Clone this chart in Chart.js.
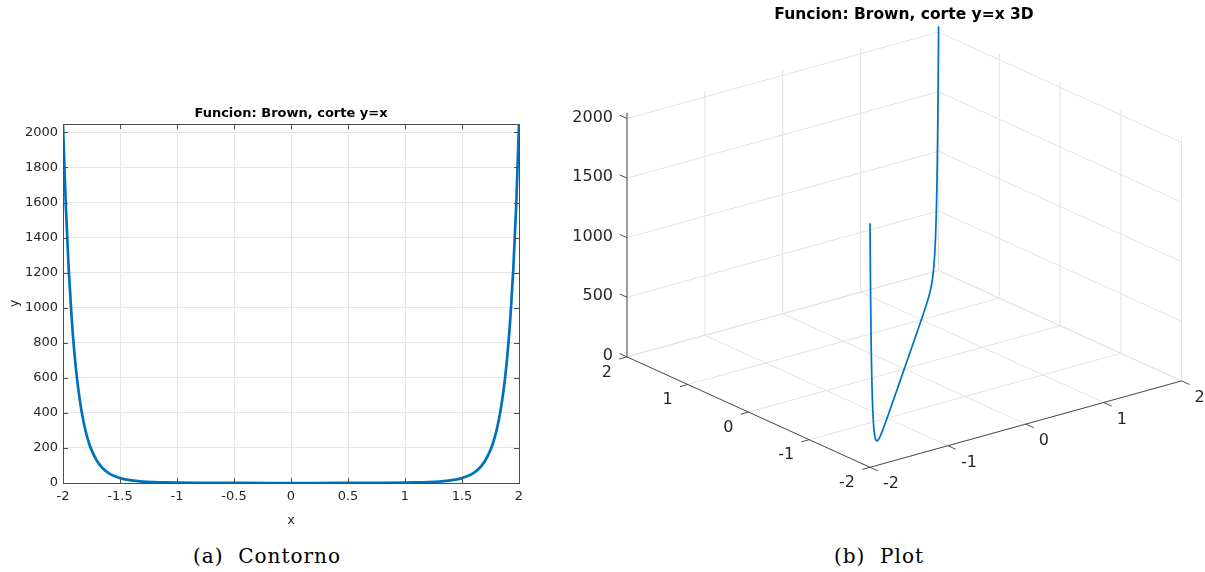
<!DOCTYPE html>
<html>
<head>
<meta charset="utf-8">
<script src="https://cdn.jsdelivr.net/npm/chart.js@4.4.1/dist/chart.umd.min.js"></script>
<style>
  body { margin: 0; background: #fff; width: 1205px; height: 572px; position: relative; overflow: hidden; }
  canvas { position: absolute; top: 0; }
  #c1 { left: 0; }
  #c2 { left: 560px; }
  .cap { position: absolute; font-family: "DejaVu Serif", serif; font-size: 20px; letter-spacing: 1px;
         color: #000; white-space: pre; transform: translate(-50%, -50%); }
</style>
</head>
<body>
<canvas id="c1" width="560" height="540"></canvas>
<canvas id="c2" width="645" height="540"></canvas>
<div class="cap" style="left:267px;top:556px">(a)  Contorno</div>
<div class="cap" style="left:879px;top:556px">(b)  Plot</div>
<script>
// values (cut y=x of the Brown function)
const xVals = [-2, -1.975, -1.95, -1.925, -1.9, -1.875, -1.85, -1.825, -1.8, -1.775, -1.75,
  -1.7, -1.65, -1.6, -1.55, -1.5, -1.4, -1.3, -1.2, -1.1, -1, -0.8, -0.6, -0.4, -0.2, 0,
  0.2, 0.4, 0.6, 0.8, 1, 1.1, 1.2, 1.3, 1.4, 1.5, 1.55, 1.6, 1.65, 1.7, 1.75,
  1.775, 1.8, 1.825, 1.85, 1.875, 1.9, 1.925, 1.95, 1.975, 2];
const fVals = [2048, 1577, 1221, 950, 743, 584, 462, 366, 292, 234, 189,
  124, 83, 57, 39.5, 28, 14.7, 8.2, 4.9, 3.0, 2.0, 0.96, 0.5, 0.24, 0.07, 0,
  0.07, 0.24, 0.5, 0.96, 2.0, 3.0, 4.9, 8.2, 14.7, 28, 39.5, 57, 83, 124, 189,
  234, 292, 366, 462, 584, 743, 950, 1221, 1577, 2048];

const xTicks = [-2, -1.5, -1, -0.5, 0, 0.5, 1, 1.5, 2];
const yTicks = [0, 200, 400, 600, 800, 1000, 1200, 1400, 1600, 1800, 2000];
const yMax = 2048;
const xyTicks3d = [-2, -1, 0, 1, 2];
const zTicks3d = [0, 500, 1000, 1500, 2000];
const zMax = 2048;
const title2d = 'Funcion: Brown, corte y=x';
const title3d = 'Funcion: Brown, corte y=x 3D';

Chart.defaults.font.family = '"DejaVu Sans", sans-serif';
Chart.defaults.color = '#262626';
const AXIS = '#4d4d4d';
const GRID = '#e6e6e6';
const BLUE = '#0072BD';

// ---------- left: 2D cut ----------
const boxTicks = {
  id: 'boxTicks',
  afterDraw(chart) {
    const { ctx, chartArea: a, scales: { x, y } } = chart;
    ctx.save();
    ctx.strokeStyle = AXIS;
    ctx.lineWidth = 1;
    ctx.strokeRect(a.left + 0.5, a.top + 0.5, a.right - a.left, a.bottom - a.top);
    ctx.beginPath();
    xTicks.forEach(v => {
      const p = Math.round(x.getPixelForValue(v)) + 0.5;
      ctx.moveTo(p, a.bottom); ctx.lineTo(p, a.bottom - 5);
      ctx.moveTo(p, a.top); ctx.lineTo(p, a.top + 5);
    });
    yTicks.forEach(v => {
      const p = Math.round(y.getPixelForValue(v)) + 0.5;
      ctx.moveTo(a.left, p); ctx.lineTo(a.left + 5, p);
      ctx.moveTo(a.right, p); ctx.lineTo(a.right - 5, p);
    });
    ctx.stroke();
    ctx.restore();
  }
};

new Chart(document.getElementById('c1'), {
  type: 'scatter',
  data: {
    datasets: [{
      data: xVals.map((v, i) => ({ x: v, y: fVals[i] })),
      showLine: true,
      borderColor: BLUE,
      borderWidth: 2.7,
      pointRadius: 0,
      cubicInterpolationMode: 'monotone'
    }]
  },
  options: {
    responsive: false,
    animation: false,
    devicePixelRatio: 1,
    layout: { padding: { left: 0, right: 41, top: 0, bottom: 7 } },
    plugins: {
      legend: { display: false },
      tooltip: { enabled: false },
      title: {
        display: true,
        text: title2d,
        fullSize: false,
        color: '#000',
        font: { size: 13, weight: 'bold' },
        padding: { top: 105.5, bottom: 2.9 }
      }
    },
    scales: {
      x: {
        type: 'linear',
        min: -2, max: 2,
        afterBuildTicks: s => { s.ticks = xTicks.map(v => ({ value: v })); },
        afterFit: s => { s.height = 50; },
        ticks: { font: { size: 13 }, padding: 6, maxRotation: 0, callback: v => String(v) },
        grid: { color: GRID, drawTicks: false },
        border: { display: false },
        title: { display: true, text: 'x', font: { size: 13 }, padding: { top: 0, bottom: 5 } }
      },
      y: {
        type: 'linear',
        min: 0, max: yMax,
        afterBuildTicks: s => { s.ticks = yTicks.map(v => ({ value: v })); },
        afterFit: s => { s.width = 63; },
        ticks: { font: { size: 13 }, padding: 5, callback: v => String(v) },
        grid: { color: GRID, drawTicks: false },
        border: { display: false },
        title: { display: true, text: 'y', font: { size: 13 }, padding: { top: 7, bottom: 0 } }
      }
    }
  },
  plugins: [boxTicks]
});

// ---------- right: 3D view of the same cut ----------
// orthographic projection of the axes box onto the page (pixels)
const P0 = { x: 870, y: 467.3 };     // corner x=-2, y=-2, z=0
const EX = { x: -60.75, y: -27.6 };  // one unit of x
const EY = { x: 77.9, y: -21.6 };    // one unit of y
const EZ = 0.1192;                   // one unit of z (upwards)
function proj(x, y, z) {
  return {
    x: P0.x + (x + 2) * EX.x + (y + 2) * EY.x,
    y: P0.y + (x + 2) * EX.y + (y + 2) * EY.y - z * EZ
  };
}

const box3d = {
  id: 'box3d',
  beforeDatasetsDraw(chart) {
    const { ctx, scales: { x, y } } = chart;
    const px = p => ({ x: x.getPixelForValue(p.x), y: y.getPixelForValue(p.y) });
    const seg = (a, b) => { const p = px(a), q = px(b); ctx.moveTo(p.x, p.y); ctx.lineTo(q.x, q.y); };
    ctx.save();
    // grid: floor, wall x=2, wall y=2
    ctx.strokeStyle = '#e2e2e2';
    ctx.lineWidth = 1;
    ctx.beginPath();
    xyTicks3d.forEach(v => {
      seg(proj(v, -2, 0), proj(v, 2, 0));
      seg(proj(-2, v, 0), proj(2, v, 0));
      seg(proj(2, v, 0), proj(2, v, zMax));
      seg(proj(v, 2, 0), proj(v, 2, zMax));
    });
    zTicks3d.forEach(v => {
      seg(proj(2, -2, v), proj(2, 2, v));
      seg(proj(2, 2, v), proj(-2, 2, v));
    });
    ctx.stroke();
    // axes
    ctx.strokeStyle = AXIS;
    ctx.beginPath();
    seg(proj(2, -2, 0), proj(2, -2, zMax));
    seg(proj(2, -2, 0), proj(-2, -2, 0));
    seg(proj(-2, -2, 0), proj(-2, 2, 0));
    // tick marks
    xyTicks3d.forEach(v => {
      seg(proj(v, -2, 0), proj(v, -2.1, 0));
      seg(proj(-2, v, 0), proj(-2.13, v, 0));
    });
    zTicks3d.forEach(v => seg(proj(2, -2, v), proj(2.12, -2, v)));
    ctx.stroke();
    // tick labels
    ctx.fillStyle = '#262626';
    ctx.font = '16px "DejaVu Sans", sans-serif';
    ctx.textBaseline = 'middle';
    ctx.textAlign = 'right';
    xyTicks3d.forEach(v => {
      const p = px(proj(v, -2, 0));
      ctx.fillText(String(v), p.x - 15, p.y + 15.5);
    });
    zTicks3d.forEach(v => {
      const p = px(proj(2, -2, v));
      ctx.fillText(String(v), p.x - 14, p.y - 1);
    });
    ctx.textAlign = 'left';
    xyTicks3d.forEach(v => {
      const p = px(proj(-2, v, 0));
      ctx.fillText(String(v), p.x + 13, p.y + 17);
    });
    // title
    ctx.fillStyle = '#000';
    ctx.font = 'bold 15.5px "DejaVu Sans", sans-serif';
    ctx.textAlign = 'center';
    const t = px({ x: 904, y: 14.7 });
    ctx.fillText(title3d, t.x, t.y);
    ctx.restore();
  }
};

new Chart(document.getElementById('c2'), {
  type: 'scatter',
  data: {
    datasets: [{
      data: xVals.map((v, i) => proj(v, v, fVals[i])),
      showLine: true,
      borderColor: BLUE,
      borderWidth: 1.7,
      pointRadius: 0,
      tension: 0.2,
      clip: false
    }]
  },
  options: {
    responsive: false,
    animation: false,
    devicePixelRatio: 1,
    layout: { padding: 0 },
    plugins: { legend: { display: false }, tooltip: { enabled: false } },
    scales: {
      x: { type: 'linear', display: false, min: 560, max: 1205 },
      y: { type: 'linear', display: false, min: 0, max: 540, reverse: true }
    }
  },
  plugins: [box3d]
});
</script>
</body>
</html>
